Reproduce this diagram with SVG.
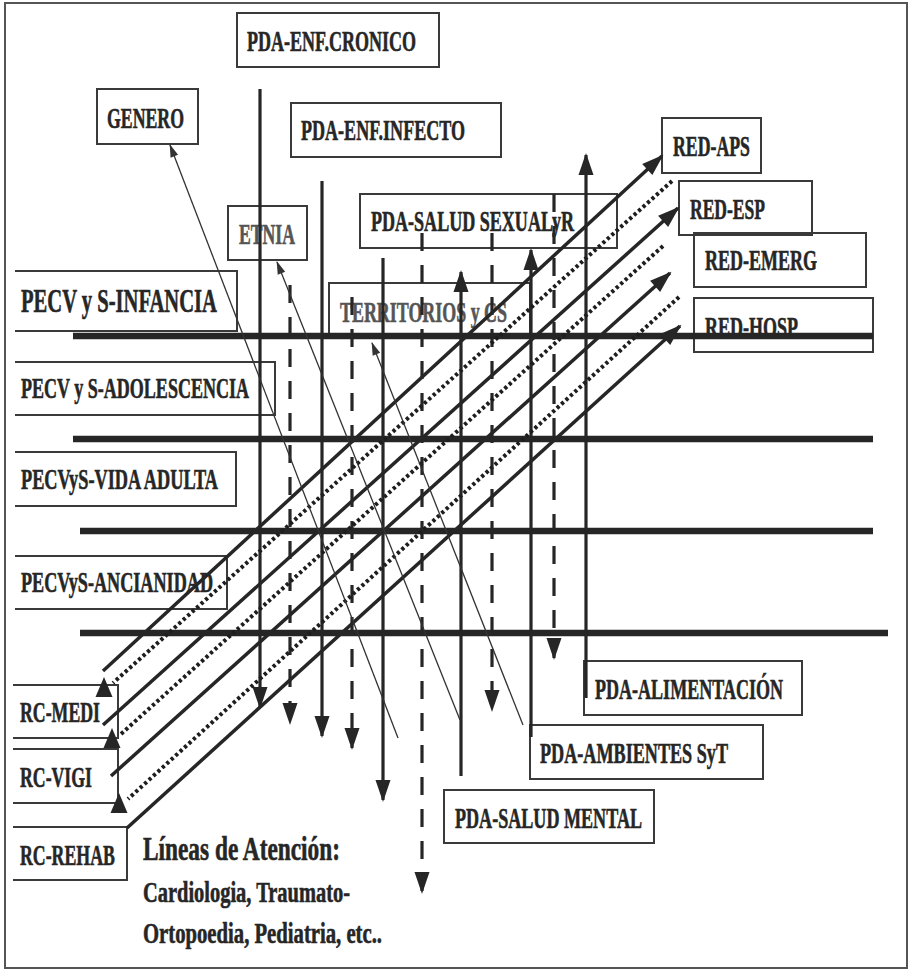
<svg xmlns="http://www.w3.org/2000/svg" width="912" height="970" viewBox="0 0 912 970">
<style>
.bx{fill:none;stroke:#3a3a3a;stroke-width:2}
.t{font-family:"Liberation Serif","Times New Roman",serif;font-weight:bold;font-size:30px;fill:#262626;stroke:#262626;stroke-width:0.6}
.tg{fill:#555;stroke:#555}
.hl{stroke:#262626;stroke-width:6.5;fill:none}
.v{stroke:#262626;stroke-width:3.2;fill:none}
.vd{stroke:#262626;stroke-width:3.2;fill:none;stroke-dasharray:18 14}
.ds{stroke:#262626;stroke-width:3.5;fill:none}
.dd{stroke:#1e1e1e;stroke-width:4;fill:none;stroke-dasharray:3.2 2.8}
.th{stroke:#333;stroke-width:1.3;fill:none}
</style>
<defs>
<marker id="ah" markerUnits="userSpaceOnUse" markerWidth="24" markerHeight="16" refX="20" refY="7.5" orient="auto" overflow="visible">
<path d="M0,0 L22,7.5 L0,15 z" fill="#262626"/>
</marker>
<marker id="ahs" markerUnits="userSpaceOnUse" markerWidth="14" markerHeight="10" refX="12" refY="4" orient="auto" overflow="visible">
<path d="M0,0 L13,4 L0,8 z" fill="#333"/>
</marker>
<marker id="tri" markerUnits="userSpaceOnUse" markerWidth="20" markerHeight="22" refX="17" refY="6" orient="0" overflow="visible">
<path d="M8,0 L16.5,20 L-0.5,20 z" fill="#262626"/>
</marker>
</defs>
<rect x="5" y="3" width="902" height="965" fill="#fff" stroke="#555" stroke-width="2"/>

<g id="pda-enf-cronico"><rect class="bx" x="237" y="13" width="202" height="54"/><text class="t" x="247" y="51" textLength="169" lengthAdjust="spacingAndGlyphs">PDA-ENF.CRONICO</text></g>
<g id="genero"><rect class="bx" x="97" y="89" width="101" height="55"/><text class="t" x="107" y="128" textLength="77" lengthAdjust="spacingAndGlyphs">GENERO</text></g>
<g id="pda-enf-infecto"><rect class="bx" x="291" y="103" width="210" height="54"/><text class="t" x="301" y="140" textLength="164" lengthAdjust="spacingAndGlyphs">PDA-ENF.INFECTO</text></g>
<g id="etnia"><rect class="bx" x="228" y="206" width="79" height="54"/><text class="t tg" x="239" y="244" textLength="56" lengthAdjust="spacingAndGlyphs">ETNIA</text></g>
<g id="pda-salud-sexual"><rect class="bx" x="360" y="194" width="257" height="54"/><text class="t" x="371" y="231" textLength="203" lengthAdjust="spacingAndGlyphs">PDA-SALUD SEXUALyR</text></g>
<g id="territorios"><rect class="bx" x="329" y="283" width="201" height="53"/><text class="t tg" x="340" y="322" textLength="167" lengthAdjust="spacingAndGlyphs">TERRITORIOS y CS</text></g>
<g id="red-aps"><rect class="bx" x="662" y="118" width="99" height="55"/><text class="t" x="673" y="156" textLength="77" lengthAdjust="spacingAndGlyphs">RED-APS</text></g>
<g id="red-esp"><rect class="bx" x="679" y="181" width="133" height="54"/><text class="t" x="690" y="219" textLength="75" lengthAdjust="spacingAndGlyphs">RED-ESP</text></g>
<g id="red-emerg"><rect class="bx" x="694" y="233" width="172" height="54"/><text class="t" x="705" y="270" textLength="112" lengthAdjust="spacingAndGlyphs">RED-EMERG</text></g>
<g id="red-hosp"><rect class="bx" x="694" y="298" width="179" height="54"/><text class="t" x="705" y="337" textLength="93" lengthAdjust="spacingAndGlyphs">RED-HOSP</text></g>
<g id="pecv-infancia"><path class="bx" d="M15,271 H237 V331 H15"/><text class="t" style="font-size:33px" x="21" y="312" textLength="196" lengthAdjust="spacingAndGlyphs">PECV y S-INFANCIA</text></g>
<g id="pecv-adolescencia"><path class="bx" d="M15,362 H275 V415 H15"/><text class="t" x="21" y="398" textLength="228" lengthAdjust="spacingAndGlyphs">PECV y S-ADOLESCENCIA</text></g>
<g id="pecv-vida-adulta"><path class="bx" d="M15,452 H236 V506 H15"/><text class="t" x="21" y="489" textLength="197" lengthAdjust="spacingAndGlyphs">PECVyS-VIDA ADULTA</text></g>
<g id="pecv-ancianidad"><path class="bx" d="M15,556 H227 V609 H15"/><text class="t" x="21" y="592" textLength="192" lengthAdjust="spacingAndGlyphs">PECVyS-ANCIANIDAD</text></g>
<g id="rc-medi"><path class="bx" d="M13,685 H118 V738 H13"/><text class="t" x="20" y="722" textLength="80" lengthAdjust="spacingAndGlyphs">RC-MEDI</text></g>
<g id="rc-vigi"><path class="bx" d="M13,749 H118 V803 H13"/><text class="t" x="20" y="787" textLength="72" lengthAdjust="spacingAndGlyphs">RC-VIGI</text></g>
<g id="rc-rehab"><path class="bx" d="M13,827 H127 V880 H13"/><text class="t" transform="translate(20,865) scale(0.593,1)" x="0" y="0">RC-REHAB</text></g>
<g id="pda-alimentacion"><rect class="bx" x="584" y="661" width="218" height="54"/><text class="t" x="595" y="699" textLength="188" lengthAdjust="spacingAndGlyphs">PDA-ALIMENTACIÓN</text></g>
<g id="pda-ambientes"><rect class="bx" x="530" y="725" width="233" height="54"/><text class="t" x="540" y="763" textLength="188" lengthAdjust="spacingAndGlyphs">PDA-AMBIENTES SyT</text></g>
<g id="pda-salud-mental"><rect class="bx" x="444" y="790" width="210" height="53"/><text class="t" x="455" y="828" textLength="187" lengthAdjust="spacingAndGlyphs">PDA-SALUD MENTAL</text></g>
<g id="lineas-atencion">
<text class="t" style="font-size:34px" x="143" y="860" textLength="197" lengthAdjust="spacingAndGlyphs">Líneas de Atención:</text>
<text class="t" style="font-size:30px" x="143" y="902" textLength="207" lengthAdjust="spacingAndGlyphs">Cardiologia, Traumato-</text>
<text class="t" style="font-size:30px" x="143" y="943" textLength="239" lengthAdjust="spacingAndGlyphs">Ortopoedia, Pediatria, etc..</text>
</g>

<g id="connectors">
<path class="hl" d="M73,336 H873"/>
<path class="hl" d="M73,439 H873"/>
<path class="hl" d="M80,531 H873"/>
<path class="hl" d="M80,633 H888"/>

<path class="v" d="M260,89 V707" marker-end="url(#ah)"/>
<path class="vd" d="M290,285 V723" marker-end="url(#ah)"/>
<path class="v" d="M322,181 V736" marker-end="url(#ah)"/>
<path class="vd" d="M352,297 V748" marker-end="url(#ah)"/>
<path class="v" d="M383,258 V800" marker-end="url(#ah)"/>
<path class="vd" d="M422,233 V892" marker-end="url(#ah)"/>
<path class="v" d="M461,776 V272" marker-end="url(#ah)"/>
<path class="vd" d="M492,233 V710" marker-end="url(#ah)"/>
<path class="v" d="M531,737 V250" marker-end="url(#ah)"/>
<path class="vd" d="M554,194 V658" marker-end="url(#ah)"/>
<path class="v" d="M586,698 V155" marker-end="url(#ah)"/>

<path class="ds" d="M103,671 L662,156" marker-end="url(#ah)"/>
<path class="ds" d="M103,725 L678,208" marker-end="url(#ah)"/>
<path class="ds" d="M111,776 L670,273" marker-end="url(#ah)"/>
<path class="ds" d="M127,828 L680,326" marker-end="url(#ah)"/>

<path class="dd" d="M672,181 L113,683" marker-end="url(#tri)"/>
<path class="dd" d="M663,246 L121,734" marker-end="url(#tri)"/>
<path class="dd" d="M679,297 L128,799" marker-end="url(#tri)"/>

<path class="th" d="M398,738 L170,145" marker-end="url(#ahs)"/>
<path class="th" d="M460,720 L277,262" marker-end="url(#ahs)"/>
<path class="th" d="M523,725 L372,343" marker-end="url(#ahs)"/>
</g>
</svg>
